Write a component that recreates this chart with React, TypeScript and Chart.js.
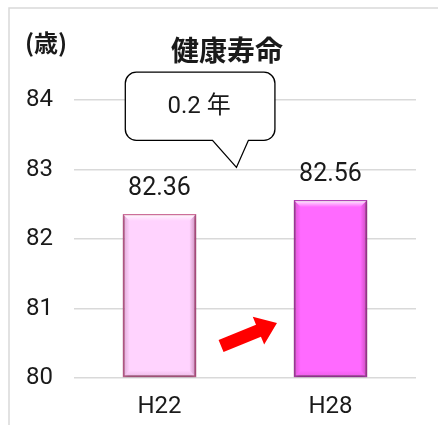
import React, { useEffect, useRef } from "react";
import { Chart, registerables } from "chart.js";

Chart.register(...registerables);

const categories = ["H22", "H28"];
const values = [82.36, 82.56];
const valueLabels = ["82.36", "82.56"];
const yMin = 80;
const yMax = 84;
const titleText = "健康寿命";
const unitText = "(歳)";
const calloutText = "0.2 年";
const fillColors = ["#FFD3FE", "#FF6AFF"];
const edgeColors = ["#D0709C", "#B544B8"];

const NUM_FONT = "Roboto, 'Noto Sans CJK JP', sans-serif";
const JP_FONT = "'Noto Sans CJK JP', sans-serif";

const decorPlugin = {
  id: "decor",
  beforeDatasetsDraw(chart: any) {
    const ctx = chart.ctx;
    ctx.save();
    ctx.shadowColor = "rgba(0,0,0,0.35)";
    ctx.shadowBlur = 4;
    ctx.shadowOffsetY = 2;
  },
  afterDatasetsDraw(chart: any) {
    const ctx = chart.ctx;
    ctx.restore();
    const meta = chart.getDatasetMeta(0);
    const area = chart.chartArea;
    meta.data.forEach((bar: any, i: number) => {
      const x0 = bar.x - bar.width / 2;
      const x1 = bar.x + bar.width / 2;
      const y0 = bar.y;
      const y1 = Math.min(bar.base, area.bottom);
      const b = 7;
      ctx.save();
      let g = ctx.createLinearGradient(0, y0, 0, y0 + b);
      g.addColorStop(0, "rgba(255,255,255,0.95)");
      g.addColorStop(1, "rgba(255,255,255,0)");
      ctx.fillStyle = g;
      ctx.beginPath();
      ctx.moveTo(x0 + 1, y0 + 1);
      ctx.lineTo(x1 - 1, y0 + 1);
      ctx.lineTo(x1 - b, y0 + b);
      ctx.lineTo(x0 + b, y0 + b);
      ctx.closePath();
      ctx.fill();
      g = ctx.createLinearGradient(x0, 0, x0 + b, 0);
      g.addColorStop(0, "rgba(120,20,80,0.25)");
      g.addColorStop(1, "rgba(120,20,80,0)");
      ctx.fillStyle = g;
      ctx.beginPath();
      ctx.moveTo(x0, y0);
      ctx.lineTo(x0 + b, y0 + b);
      ctx.lineTo(x0 + b, y1 - b);
      ctx.lineTo(x0, y1);
      ctx.closePath();
      ctx.fill();
      g = ctx.createLinearGradient(x1, 0, x1 - b, 0);
      g.addColorStop(0, "rgba(120,20,80,0.4)");
      g.addColorStop(1, "rgba(120,20,80,0)");
      ctx.fillStyle = g;
      ctx.beginPath();
      ctx.moveTo(x1, y0);
      ctx.lineTo(x1 - b, y0 + b);
      ctx.lineTo(x1 - b, y1 - b);
      ctx.lineTo(x1, y1);
      ctx.closePath();
      ctx.fill();
      g = ctx.createLinearGradient(0, y1, 0, y1 - b);
      g.addColorStop(0, "rgba(120,20,80,0.15)");
      g.addColorStop(1, "rgba(120,20,80,0)");
      ctx.fillStyle = g;
      ctx.beginPath();
      ctx.moveTo(x0, y1);
      ctx.lineTo(x1, y1);
      ctx.lineTo(x1 - b, y1 - b);
      ctx.lineTo(x0 + b, y1 - b);
      ctx.closePath();
      ctx.fill();
      ctx.restore();

      ctx.save();
      ctx.fillStyle = "#1a1a1a";
      ctx.font = `25px ${NUM_FONT}`;
      ctx.textAlign = "center";
      ctx.textBaseline = "alphabetic";
      ctx.fillText(valueLabels[i], bar.x, bar.y - 19);
      ctx.restore();
    });
  },
  afterDraw(chart: any) {
    const ctx = chart.ctx;
    const xs = chart.scales.x;
    const ys = chart.scales.y;
    const W = chart.width;
    const H = chart.height;
    ctx.save();
    ctx.strokeStyle = "#d9d9d9";
    ctx.lineWidth = 1.5;
    ctx.beginPath();
    ctx.moveTo(9, H);
    ctx.lineTo(9, 8);
    ctx.lineTo(W, 8);
    ctx.stroke();

    ctx.fillStyle = "#1a1a1a";
    ctx.textAlign = "center";
    ctx.textBaseline = "middle";
    ctx.font = `bold 28px ${JP_FONT}`;
    ctx.fillText(titleText, 227, 50);
    ctx.font = `bold 24px ${JP_FONT}`;
    ctx.fillText(unitText, 46, 43);

    const L = xs.getPixelForValue(-0.2);
    const R = xs.getPixelForValue(0.675);
    const T = ys.getPixelForValue(84.4);
    const B = ys.getPixelForValue(83.42);
    const apexX = xs.getPixelForValue(0.45);
    const apexY = ys.getPixelForValue(83.03);
    const baseL = xs.getPixelForValue(0.31);
    const baseR = xs.getPixelForValue(0.52);
    const r = 11;
    ctx.beginPath();
    ctx.moveTo(L + r, T);
    ctx.lineTo(R - r, T);
    ctx.arcTo(R, T, R, T + r, r);
    ctx.lineTo(R, B - r);
    ctx.arcTo(R, B, R - r, B, r);
    ctx.lineTo(baseR, B);
    ctx.lineTo(apexX, apexY);
    ctx.lineTo(baseL, B);
    ctx.lineTo(L + r, B);
    ctx.arcTo(L, B, L, B - r, r);
    ctx.lineTo(L, T + r);
    ctx.arcTo(L, T, L + r, T, r);
    ctx.closePath();
    ctx.fillStyle = "#ffffff";
    ctx.fill();
    ctx.strokeStyle = "#000000";
    ctx.lineWidth = 1.3;
    ctx.stroke();
    ctx.fillStyle = "#1a1a1a";
    ctx.font = `24px ${NUM_FONT}`;
    ctx.textAlign = "center";
    ctx.textBaseline = "middle";
    ctx.fillText(calloutText, (L + R) / 2 - 1, (T + B) / 2 + 1);

    const sx = xs.getPixelForValue(0.36);
    const sy = ys.getPixelForValue(80.46);
    const ex = xs.getPixelForValue(0.687);
    const ey = ys.getPixelForValue(80.79);
    const ang = Math.atan2(ey - sy, ex - sx);
    const len = Math.hypot(ex - sx, ey - sy);
    ctx.translate(sx, sy);
    ctx.rotate(ang);
    const hw = 6.5;
    const headL = 20;
    const headW = 15;
    ctx.beginPath();
    ctx.moveTo(0, -hw);
    ctx.lineTo(len - headL, -hw);
    ctx.lineTo(len - headL, -headW);
    ctx.lineTo(len, 0);
    ctx.lineTo(len - headL, headW);
    ctx.lineTo(len - headL, hw);
    ctx.lineTo(0, hw);
    ctx.closePath();
    ctx.fillStyle = "#FF0000";
    ctx.fill();
    ctx.restore();
  },
};

export default function App() {
  const ref = useRef<HTMLCanvasElement | null>(null);
  useEffect(() => {
    if (!ref.current) return;
    const chart = new Chart(ref.current, {
      type: "bar",
      data: {
        labels: categories,
        datasets: [
          {
            data: values,
            base: yMin,
            backgroundColor: fillColors,
            borderColor: edgeColors,
            borderWidth: 2,
            borderSkipped: false,
            barPercentage: 0.86,
            categoryPercentage: 0.5,
          },
        ],
      },
      options: {
        responsive: false,
        animation: false,
        layout: { padding: { left: 0, right: 22, top: 100, bottom: 0 } },
        plugins: {
          legend: { display: false },
          tooltip: { enabled: false },
          title: { display: false },
        },
        scales: {
          x: {
            grid: { display: false, drawTicks: false },
            border: { display: false },
            ticks: {
              color: "#1a1a1a",
              font: { family: NUM_FONT, size: 24 },
              padding: 15,
            },
            afterFit: (s: any) => {
              s.height = 47;
            },
          },
          y: {
            min: yMin,
            max: yMax,
            grid: { color: "#d9d9d9", lineWidth: 1.5, drawTicks: false },
            border: { display: false },
            ticks: {
              stepSize: 1,
              color: "#1a1a1a",
              font: { family: NUM_FONT, size: 24 },
              padding: 21,
            },
            afterFit: (s: any) => {
              s.width = 74;
            },
          },
        },
      },
      plugins: [decorPlugin],
    } as any);
    return () => chart.destroy();
  }, []);
  return (
    <div style={{ position: "fixed", left: 0, top: 0, width: 438, height: 425, background: "#fff" }}>
      <canvas ref={ref} width={438} height={425} />
    </div>
  );
}
